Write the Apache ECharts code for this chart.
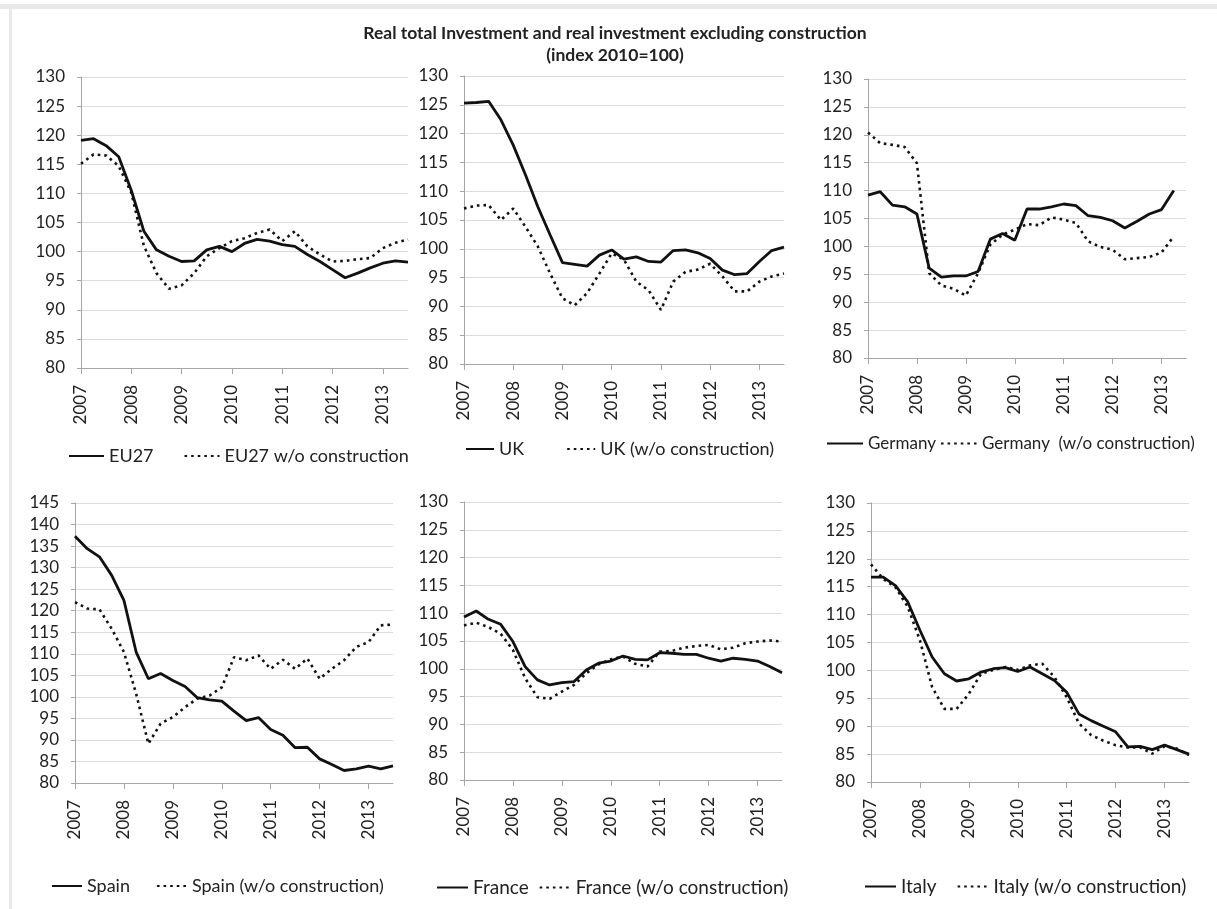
<!DOCTYPE html>
<html>
<head>
<meta charset="utf-8">
<script src="https://cdn.jsdelivr.net/npm/echarts@6/dist/echarts.min.js"></script>
<style>
  html, body { margin: 0; padding: 0; background: #fff; }
  #main { width: 1217px; height: 909px; }
</style>
</head>
<body>
<div id="main"></div>
<script>
// quarterly data, 2007Q1 .. 2013Q3, index 2010=100
var years = ['2007', '2008', '2009', '2010', '2011', '2012', '2013'];
var quarters = [];
years.forEach(function (y) {
  ['Q1', 'Q2', 'Q3', 'Q4'].forEach(function (q) { quarters.push(y + q); });
});
quarters = quarters.slice(0, 27);

var eu27 = [119.1, 119.4, 118.2, 116.3, 110.5, 103.5, 100.3, 99.2, 98.3, 98.4, 100.3, 100.9, 100.0, 101.4, 102.1, 101.8, 101.2, 100.9, 99.5, 98.3, 96.9, 95.5, 96.3, 97.2, 98.0, 98.4, 98.2];
var eu27Wo = [115.1, 116.7, 116.5, 114.7, 110.1, 101.0, 96.3, 93.6, 94.2, 96.3, 99.2, 100.6, 101.8, 102.3, 103.2, 103.8, 101.8, 103.5, 100.9, 99.5, 98.3, 98.4, 98.7, 98.9, 100.6, 101.5, 102.1];

var uk = [125.3, 125.4, 125.6, 122.4, 118.0, 112.8, 107.3, 102.4, 97.6, 97.3, 97.0, 98.9, 99.8, 98.2, 98.6, 97.8, 97.7, 99.7, 99.8, 99.3, 98.3, 96.3, 95.5, 95.7, 97.8, 99.7, 100.3];
var ukWo = [107.0, 107.5, 107.6, 105.0, 107.0, 103.8, 100.4, 95.7, 91.4, 90.2, 92.3, 95.7, 99.2, 98.1, 94.3, 92.8, 89.4, 94.3, 96.0, 96.4, 97.4, 95.2, 92.6, 92.6, 94.3, 95.2, 95.7];

var germany = [109.2, 109.8, 107.4, 107.1, 105.8, 96.1, 94.5, 94.7, 94.7, 95.5, 101.3, 102.3, 101.1, 106.7, 106.7, 107.1, 107.6, 107.3, 105.5, 105.2, 104.6, 103.3, 104.5, 105.8, 106.6, 110.0, null];
var germanyWo = [120.4, 118.5, 118.2, 117.8, 114.9, 95.2, 93.0, 92.4, 91.2, 95.2, 100.3, 102.1, 103.0, 104.0, 103.8, 105.2, 104.8, 104.2, 100.9, 99.9, 99.4, 97.7, 97.9, 98.1, 98.9, 101.8, null];

var spain = [137.3, 134.4, 132.5, 128.2, 122.4, 110.4, 104.2, 105.4, 103.8, 102.4, 99.8, 99.3, 99.0, 96.7, 94.5, 95.2, 92.4, 91.1, 88.2, 88.3, 85.6, 84.3, 82.9, 83.3, 83.9, 83.3, 84.0];
var spainWo = [122.0, 120.5, 120.3, 115.8, 110.4, 100.7, 89.1, 93.8, 95.3, 97.6, 99.6, 100.3, 102.2, 109.2, 108.5, 109.6, 106.5, 108.6, 106.5, 108.9, 104.2, 106.5, 108.5, 111.6, 112.7, 116.6, 116.8];

var france = [109.3, 110.4, 108.9, 108.0, 104.9, 100.4, 98.0, 97.1, 97.5, 97.7, 99.8, 101.0, 101.4, 102.3, 101.7, 101.6, 102.9, 102.8, 102.6, 102.6, 101.9, 101.4, 101.9, 101.7, 101.4, 100.4, 99.3];
var franceWo = [107.8, 108.3, 107.5, 106.3, 103.4, 98.3, 94.9, 94.6, 95.9, 97.1, 99.2, 100.8, 101.7, 102.2, 100.9, 100.4, 103.1, 103.2, 103.8, 104.1, 104.3, 103.5, 103.8, 104.6, 104.9, 105.1, 104.9];

var italy = [116.7, 116.7, 115.2, 112.3, 107.2, 102.4, 99.4, 98.1, 98.5, 99.7, 100.3, 100.5, 99.8, 100.6, 99.4, 98.2, 96.1, 92.2, 91.0, 90.0, 89.0, 86.3, 86.4, 85.8, 86.6, 85.8, 85.0];
var italyWo = [119.0, 116.4, 114.9, 111.4, 105.4, 97.0, 93.1, 93.1, 95.8, 99.4, 100.1, 100.6, 100.1, 100.9, 101.2, 98.8, 95.2, 90.5, 88.4, 87.4, 86.6, 86.2, 86.2, 85.1, 86.4, 86.0, 84.8];

var font = 'Lato, "Noto Sans", sans-serif';

// grid: [left, top, width, height]; legend: [left, top, itemGap, itemWidth, fontSize]
var panels = [
  { a: 'EU27', b: 'EU27 w/o construction', s: eu27, d: eu27Wo, max: 130,
    grid: [81, 77, 327, 291], legend: [68, 447, 30, 35, 18] },
  { a: 'UK', b: 'UK (w/o construction)', s: uk, d: ukWo, max: 130,
    grid: [464, 76, 320, 288], legend: [465, 440, 42, 28, 18] },
  { a: 'Germany', b: 'Germany  (w/o construction)', s: germany, d: germanyWo, max: 130,
    grid: [868, 79, 318, 279], legend: [826, 435, 4, 36, 17] },
  { a: 'Spain', b: 'Spain (w/o construction)', s: spain, d: spainWo, max: 145,
    grid: [75, 503, 318, 280], legend: [51, 877, 26, 30, 18] },
  { a: 'France', b: 'France (w/o construction)', s: france, d: franceWo, max: 130,
    grid: [464, 502, 318, 278], legend: [436, 878, 10, 31, 19] },
  { a: 'Italy', b: 'Italy (w/o construction)', s: italy, d: italyWo, max: 130,
    grid: [871, 503, 318, 279], legend: [864, 877, 20, 31, 19] }
];

var grids = [], xAxes = [], yAxes = [], series = [], legends = [];

panels.forEach(function (p, i) {
  grids.push({ left: p.grid[0], top: p.grid[1], width: p.grid[2], height: p.grid[3] });
  xAxes.push({
    type: 'category', gridIndex: i, data: quarters, boundaryGap: false,
    axisLine: { lineStyle: { color: '#a6a6a6', width: 1 } },
    axisTick: { show: true, interval: 3, length: 6, lineStyle: { color: '#a6a6a6' } },
    axisLabel: {
      interval: 3, rotate: 90, margin: 17, color: '#222', fontFamily: font, fontSize: 17,
      formatter: function (v) { return v.slice(0, 4); }
    },
    splitLine: { show: false }
  });
  yAxes.push({
    type: 'value', gridIndex: i, min: 80, max: p.max, interval: 5,
    axisLine: { show: true, lineStyle: { color: '#a6a6a6', width: 1 } },
    axisTick: { show: true, length: 4, lineStyle: { color: '#a6a6a6' } },
    axisLabel: { margin: 16, color: '#222', fontFamily: font, fontSize: 17 },
    splitLine: { lineStyle: { color: '#dcdcdc', width: 1 } }
  });
  series.push({
    name: p.a, type: 'line', xAxisIndex: i, yAxisIndex: i, data: p.s,
    symbol: 'none', lineStyle: { color: '#111', width: 2.8 }, itemStyle: { color: '#111' }
  });
  series.push({
    name: p.b, type: 'line', xAxisIndex: i, yAxisIndex: i, data: p.d,
    symbol: 'none', lineStyle: { color: '#111', width: 2.6, type: [2.6, 4] }, itemStyle: { color: '#111' }
  });
  legends.push({
    data: [p.a, p.b], left: p.legend[0], top: p.legend[1], itemGap: p.legend[2],
    itemWidth: p.legend[3], itemHeight: 14, padding: 0,
    itemStyle: { opacity: 0, borderWidth: 0 },
    textStyle: { fontFamily: font, fontSize: p.legend[4], color: '#222' }
  });
});

var myChart = echarts.init(document.getElementById('main'));
myChart.setOption({
  backgroundColor: '#fff',
  animation: false,
  title: {
    text: 'Real total Investment and real investment excluding construction\n(index 2010=100)',
    left: 610, top: 17, textAlign: 'center',
    textStyle: { fontFamily: font, fontSize: 17.5, fontWeight: 'bold', color: '#222', lineHeight: 22, align: 'center' }
  },
  graphic: [
    { type: 'rect', shape: { x: 0, y: 4, width: 1217, height: 5 }, style: { fill: '#e8e8e8' }, silent: true },
    { type: 'rect', shape: { x: 9, y: 4, width: 3, height: 905 }, style: { fill: '#e8e8e8' }, silent: true }
  ],
  legend: legends,
  grid: grids,
  xAxis: xAxes,
  yAxis: yAxes,
  series: series
});
</script>
</body>
</html>
